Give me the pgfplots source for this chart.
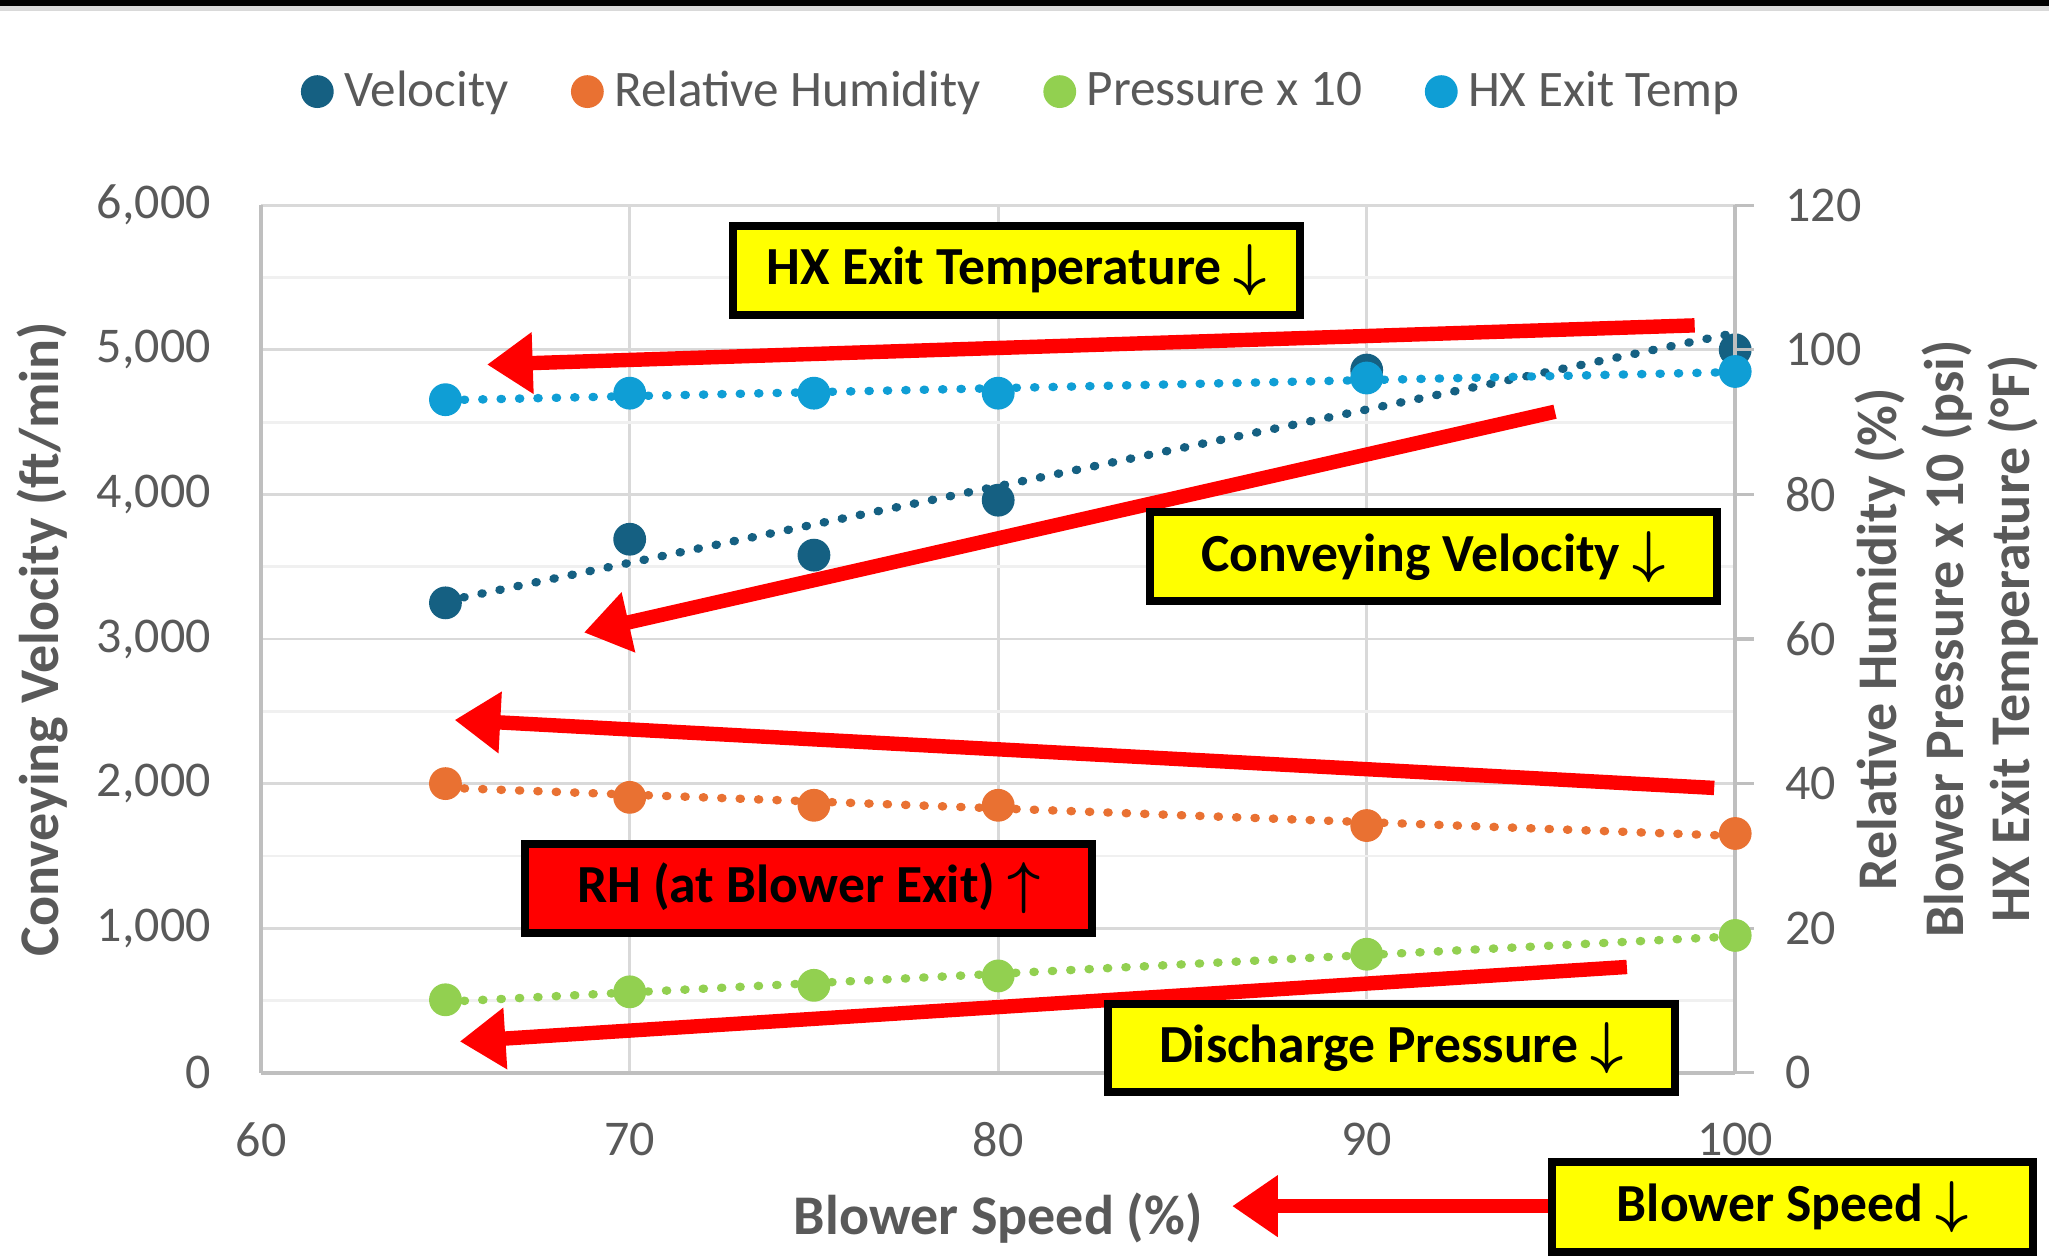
\documentclass[border=0pt]{standalone}
\usepackage{fontspec}
\setmainfont{Carlito}
\usepackage{pgfplots}
\pgfplotsset{compat=1.18}
\usetikzlibrary{arrows.meta}
\definecolor{velblue}{HTML}{156082}
\definecolor{rhorange}{HTML}{E97132}
\definecolor{presgreen}{HTML}{92D050}
\definecolor{hxblue}{HTML}{0F9ED5}
\definecolor{txtgray}{HTML}{595959}
\definecolor{gridgray}{HTML}{D9D9D9}
\definecolor{minorgray}{HTML}{F0F0F0}
\definecolor{axisgray}{HTML}{BFBFBF}
\definecolor{redarrow}{HTML}{FF0000}
\definecolor{boxyellow}{HTML}{FFFF00}
\tikzset{
  trend/.style={line width=2.1pt, line cap=round, dash pattern=on 0.3pt off 4.3pt},
  redarr/.style={draw=redarrow, line width=3.6pt, -{Triangle[width=14.7pt,length=11.4pt]}},
  abox/.style={draw=black, line width=2pt, fill=boxyellow, minimum width=141.8pt, minimum height=22.2pt, inner sep=0pt, text=black, font=\bfseries\fontsize{13.4}{16}\selectfont},
  dmark/.style={only marks, mark=*, mark size=3.9pt},
}
\begin{document}
\begin{tikzpicture}
\path[use as bounding box, fill=white] (-65.3pt,-46.05pt) rectangle (446.95pt,268.2pt);
\fill[black] (-65.3pt,266.7pt) rectangle (446.95pt,268.2pt);
\fill[gridgray] (-65.3pt,265.45pt) rectangle (446.95pt,266.7pt);

\begin{axis}[
  scale only axis, width=368.5pt, height=216.9pt,
  xmin=60, xmax=100, ymin=0, ymax=6000,
  axis x line*=bottom, axis y line*=left,
  axis line style={draw=axisgray, line width=1pt, -},
  xtick={60,70,80,90,100}, ytick={0,1000,...,6000},
  minor ytick={500,1500,...,5500},
  ymajorgrids, yminorgrids, xmajorgrids,
  major grid style={draw=gridgray, line width=0.7pt},
  minor grid style={draw=minorgray, line width=0.7pt},
  major tick length=0pt, minor tick length=0pt,
  tick label style={font=\fontsize{12.5}{15}\selectfont, text=txtgray, inner sep=0pt},
  yticklabel style={xshift=-12.4pt},
  xticklabel style={yshift=-12.3pt},
  /pgf/number format/assume math mode=true,
  /pgf/number format/1000 sep={,},
  scaled y ticks=false,
  clip=false,
]
\addplot[dmark, color=velblue] coordinates {(65,3250) (70,3690) (75,3580) (80,3960) (90,4860) (100,5000)};
\addplot[trend, color=velblue] coordinates {(65,3262) (100,5117)};
\node[rotate=90, font=\bfseries\fontsize{14}{17}\selectfont, text=txtgray] at ([xshift=-54.6pt]rel axis cs:0,0.5) {Conveying Velocity (ft/min)};
\node[font=\bfseries\fontsize{14}{17}\selectfont, text=txtgray] at ([yshift=-36.3pt]rel axis cs:0.5,0) {Blower Speed (\%)};
\end{axis}

\begin{axis}[
  scale only axis, width=368.5pt, height=216.9pt,
  xmin=60, xmax=100, ymin=0, ymax=120,
  axis x line=none, axis y line*=right,
  axis line style={draw=axisgray, line width=1pt, -},
  ytick={0,20,...,120},
  major tick length=4.6pt, tick align=outside,
  tick style={draw=axisgray, line width=0.8pt},
  tick label style={font=\fontsize{12.5}{15}\selectfont, text=txtgray, inner sep=0pt},
  yticklabel style={xshift=7.8pt},
  /pgf/number format/assume math mode=true,
  clip=false,
  legend columns=4,
  legend image code/.code={\draw[#1] plot coordinates {(0pt,0pt)};},
  legend style={at={(0.5,1)}, anchor=center, yshift=28.4pt, xshift=7pt, draw=none, fill=none,
    font=\fontsize{12.8}{15}\selectfont, text=txtgray,
    nodes={inner sep=2.8pt},
    /tikz/every even column/.append style={column sep=13pt}},
]
\addlegendimage{dmark, color=velblue}
\addlegendentry{Velocity}
\addplot[dmark, color=rhorange] coordinates {(65,40) (70,38.1) (75,37) (80,37) (90,34.2) (100,33.1)};
\addlegendentry{Relative Humidity}
\addplot[trend, color=rhorange, forget plot] coordinates {(65,39.43) (100,32.76)};
\addplot[dmark, color=presgreen] coordinates {(65,10.1) (70,11.2) (75,12.1) (80,13.4) (90,16.4) (100,19.0)};
\addlegendentry{Pressure x 10}
\addplot[trend, color=presgreen, forget plot] coordinates {(65,9.82) (100,18.88)};
\addplot[dmark, color=hxblue] coordinates {(65,93.1) (70,94) (75,94) (80,94) (90,96.1) (100,97)};
\addlegendentry{HX Exit Temp}
\addplot[trend, color=hxblue, forget plot] coordinates {(65,93.03) (100,96.92)};

\draw[redarr] (axis cs:98.9,103.38) -- (axis cs:66.13,97.96);
\draw[redarr] (axis cs:95.11,91.44) -- (axis cs:68.76,60.9);
\draw[redarr] (axis cs:99.43,39.4) -- (axis cs:65.25,48.8);
\draw[redarr] (axis cs:97.06,14.64) -- (axis cs:65.39,4.34);
\draw[redarr] (axis cs:95.11,-18.44) -- (axis cs:86.35,-18.44);

\node[abox] at (axis cs:80.5,110.96) {HX Exit Temperature {\boldmath$\downarrow$}};
\node[abox] at (axis cs:91.81,71.38) {Conveying Velocity {\boldmath$\downarrow$}};
\node[abox, fill=redarrow] at (axis cs:74.86,25.48) {RH (at Blower Exit) {\boldmath$\uparrow$}};
\node[abox] at (axis cs:90.67,3.44) {Discharge Pressure {\boldmath$\downarrow$}};
\node[abox, minimum width=120.2pt, minimum height=22.5pt] at (axis cs:101.56,-18.62) {Blower Speed {\boldmath$\downarrow$}};

\node[rotate=90, align=center, font=\bfseries\fontsize{14}{16.7}\selectfont, text=txtgray] at ([xshift=52.9pt]rel axis cs:1,0.5) {Relative Humidity (\%)\\Blower Pressure x 10 (psi)\\HX Exit Temperature (°F)};
\end{axis}
\end{tikzpicture}
\end{document}
